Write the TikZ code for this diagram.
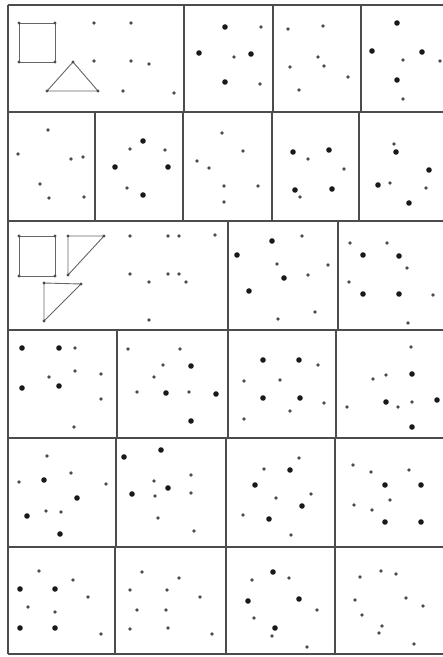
\documentclass[tikz,border=0pt]{standalone}
\begin{document}
\begin{tikzpicture}[x=1pt,y=-1pt,
  grid/.style={draw=black!70,line width=1.1pt},
  fig/.style={draw=black!60,line width=0.9pt},
  big/.style={fill=black!90},
  sm/.style={fill=black!70}]
\useasboundingbox (0,0) rectangle (443,657);
% grid
\draw[grid] (8,5) -- (443,5);
\foreach \y in {112,221,330,438,547} \draw[grid] (8,\y) -- (443,\y);
\draw[grid] (8,654) -- (443,654);
\draw[grid] (8,5) -- (8,654);
\foreach \x in {184,273,361} \draw[grid] (\x,5) -- (\x,112);
\foreach \x in {95,183,272,359} \draw[grid] (\x,112) -- (\x,221);
\foreach \x in {228,338} \draw[grid] (\x,221) -- (\x,330);
\foreach \x in {117,228,336} \draw[grid] (\x,330) -- (\x,438);
\foreach \x in {116,226,335} \draw[grid] (\x,438) -- (\x,547);
\foreach \x in {115,226,335} \draw[grid] (\x,547) -- (\x,654);
% figures row 1
\coordinate (s1) at (19,23); \coordinate (s2) at (55,23); \coordinate (s3) at (55,62); \coordinate (s4) at (19,62);
\draw[fig] (s1) -- (s2) -- (s3) -- (s4) -- cycle;
\coordinate (t1) at (73,62); \coordinate (t2) at (98,91); \coordinate (t3) at (47,91);
\draw[fig] (t1) -- (t2) -- (t3) -- cycle;
% figures row 3
\coordinate (q1) at (19,236); \coordinate (q2) at (55,236); \coordinate (q3) at (55,276); \coordinate (q4) at (19,276);
\draw[fig] (q1) -- (q2) -- (q3) -- (q4) -- cycle;
\coordinate (r1) at (68,236); \coordinate (r2) at (104,236); \coordinate (r3) at (68,275);
\draw[fig] (r1) -- (r2) -- (r3) -- cycle;
\coordinate (u1) at (44,283); \coordinate (u2) at (81,284); \coordinate (u3) at (44,321);
\draw[fig] (u1) -- (u2) -- (u3) -- cycle;
\foreach \c in {s1,s2,s3,s4,t1,t2,t3,q1,q2,q3,q4,r1,r2,r3,u1,u2,u3} \fill[sm] (\c) circle (1.6);
% large dots
\foreach \p in {
 (225,27),(199,53),(251,54),(225,82),
 (397,23),(372,51),(422,52),(397,80),
 (143,141),(115,167),(168,167),(143,195),
 (293,152),(329,150),(295,190),(332,189),
 (396,152),(429,170),(378,185),(409,203),
 (272,241),(237,255),(284,278),(249,291),
 (363,255),(399,256),(363,294),(399,294),
 (22,348),(59,348),(22,388),(59,386),
 (191,366),(166,393),(216,394),(191,421),
 (263,360),(299,360),(263,398),(300,398),
 (412,374),(386,402),(437,400),(412,427),
 (44,480),(77,498),(27,516),(60,534),
 (161,450),(124,457),(168,488),(132,494),
 (290,470),(255,485),(302,506),(269,519),
 (385,485),(421,485),(385,522),(421,522),
 (20,589),(55,589),(20,628),(55,628),
 (273,572),(248,601),(299,599),(275,628)}
 \fill[big] \p circle (2.8);
% small dots
\foreach \p in {
 (94,23),(131,23),(94,61),(131,61),(149,64),(123,91),(174,93),
 (261,27),(234,57),(260,84),
 (288,29),(323,26),(318,57),(324,66),(290,67),(348,77),(299,90),
 (403,60),(440,61),(403,99),
 (48,130),(18,154),(71,159),(83,157),(40,184),(49,198),(84,197),
 (130,149),(165,150),(127,188),
 (222,133),(243,151),(197,161),(209,168),(224,186),(258,186),(224,202),
 (308,159),(344,169),(300,197),
 (394,144),(390,183),(426,188),
 (130,236),(168,236),(179,236),(215,235),(130,274),(168,274),(179,274),(149,282),(186,282),(149,320),
 (302,236),(277,264),(328,265),(308,275),(315,312),(278,319),
 (350,243),(387,243),(407,268),(349,282),(433,295),(408,323),
 (75,348),(75,371),(49,377),(101,374),(101,399),(74,427),
 (128,349),(180,349),(163,365),(154,377),(137,392),(189,392),
 (318,365),(244,381),(280,380),(324,403),(290,411),(244,419),
 (411,347),(373,379),(386,375),(347,407),(398,407),(412,402),
 (47,456),(19,482),(71,473),(106,484),(46,511),(61,512),
 (191,475),(154,481),(155,496),(191,493),(158,518),(194,531),
 (299,458),(264,469),(311,494),(276,498),(243,515),(291,535),
 (353,465),(371,472),(409,470),(390,500),(354,505),(372,510),
 (39,571),(73,580),(88,597),(28,607),(55,612),(101,634),
 (142,572),(179,578),(130,590),(167,590),(200,597),(137,610),(166,610),(130,629),(168,628),(212,634),
 (252,580),(289,578),(317,610),(254,618),(272,636),(307,647),
 (360,577),(381,571),(396,574),(355,600),(406,598),(423,606),(362,615),(382,626),(379,633),(414,644)}
 \fill[sm] \p circle (1.8);
\end{tikzpicture}
\end{document}
